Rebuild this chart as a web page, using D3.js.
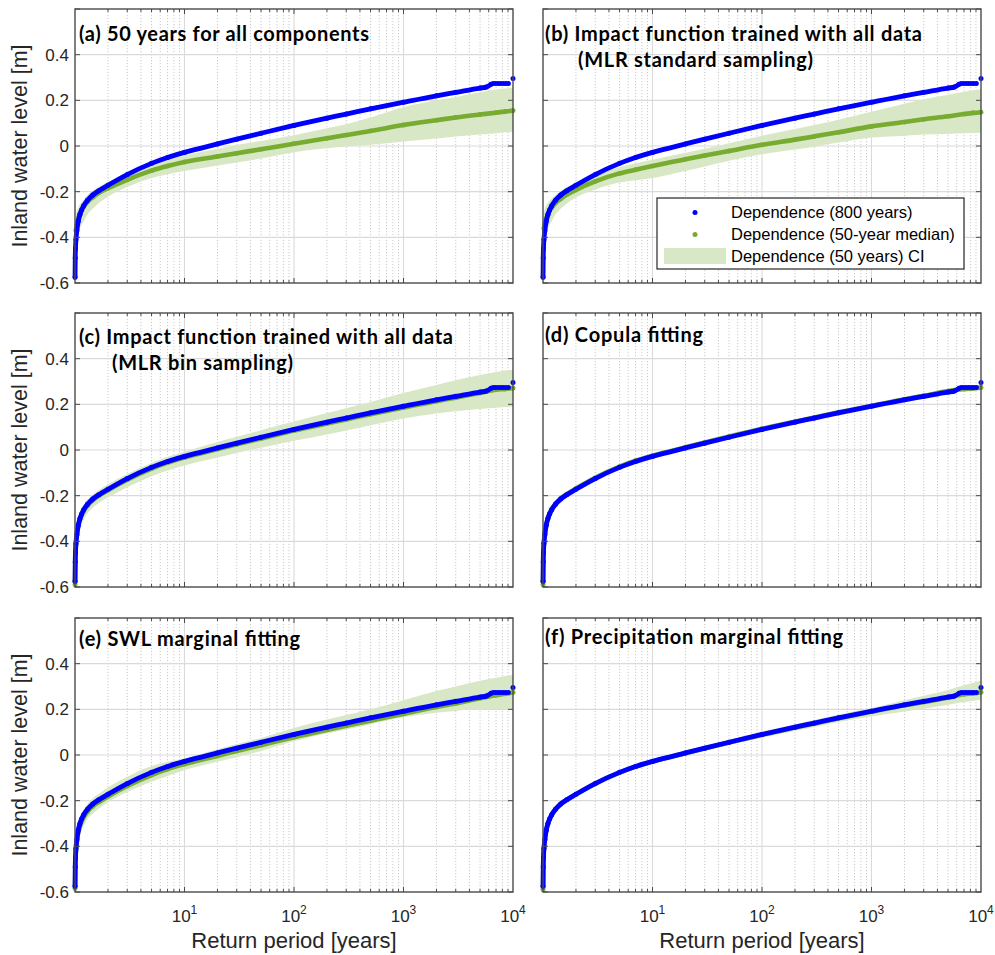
<!DOCTYPE html>
<html><head><meta charset="utf-8">
<script src="https://cdn.jsdelivr.net/npm/d3@7"></script>
<style>body{margin:0;background:#fff}</style>
</head><body>
<svg id="chart" width="995" height="955"></svg>
<script>
// ---------------- DATA ----------------
const PANEL_LABELS = ["a", "b", "c", "d", "e", "f"];
const PANEL_TITLES = [
  ["(a) 50 years for all components"],
  ["(b) Impact function trained with all data", "(MLR standard sampling)"],
  ["(c) Impact function trained with all data", "(MLR bin sampling)"],
  ["(d) Copula fitting"],
  ["(e) SWL marginal fitting"],
  ["(f) Precipitation marginal fitting"]
];
const LEGEND_LABELS = ["Dependence (800 years)", "Dependence (50-year median)", "Dependence (50 years) CI"];
const Y_TICKS = [-0.6, -0.4, -0.2, 0, 0.2, 0.4];
const X_MAJOR = [10, 100, 1000, 10000];
const X_MAJOR_EXP = ["1", "2", "3", "4"];
const X_LABEL = "Return period [years]";
const Y_LABEL = "Inland water level [m]";

// Reference curve: dependence, 800 years (same in every panel); the last points are isolated dots
const T_BLUE = [1.001, 1.005, 1.01, 1.02, 1.04, 1.07, 1.11, 1.15, 1.2, 1.3, 1.45, 1.65, 2, 3, 5, 7, 10, 20, 30, 50, 100, 200, 300, 500, 1000, 2000, 3000, 5000, 5700, 6300];
const BLUE   = [-0.575, -0.49, -0.45, -0.41, -0.37, -0.33, -0.30, -0.28, -0.262, -0.238, -0.215, -0.196, -0.172, -0.125, -0.076, -0.05, -0.028, 0.009, 0.03, 0.056, 0.09, 0.122, 0.14, 0.163, 0.192, 0.22, 0.235, 0.254, 0.258, 0.27];
const T_BLUE_TAIL = [6600, 6950, 7330, 7730, 8150, 8600, 9070, 10000];
const BLUE_TAIL   = [0.274, 0.274, 0.274, 0.274, 0.274, 0.274, 0.274, 0.296];

// Return periods for the 50-year median and its CI
const T_MED = [1.001, 1.01, 1.02, 1.04, 1.07, 1.11, 1.15, 1.2, 1.3, 1.45, 1.65, 2, 3, 5, 7, 10, 20, 30, 50, 100, 200, 300, 500, 1000, 2000, 3000, 5000, 7000, 8500, 10000];

const MED_A = [null, null, -0.37, -0.345, -0.32, -0.295, -0.28, -0.265, -0.245, -0.225, -0.205, -0.185, -0.148, -0.108, -0.088, -0.07, -0.046, -0.032, -0.014, 0.01, 0.034, 0.048, 0.066, 0.092, 0.113, 0.125, 0.138, 0.146, 0.151, 0.155];
const UP_A  = [null, null, -0.30, -0.285, -0.27, -0.255, -0.245, -0.235, -0.215, -0.195, -0.178, -0.158, -0.12, -0.08, -0.06, -0.042, -0.012, 0.004, 0.022, 0.047, 0.078, 0.095, 0.125, 0.17, 0.2, 0.215, 0.235, 0.247, 0.252, 0.256];
const LO_A  = [null, null, -0.40, -0.39, -0.375, -0.36, -0.345, -0.33, -0.30, -0.275, -0.25, -0.222, -0.18, -0.14, -0.124, -0.11, -0.085, -0.072, -0.055, -0.027, -0.01, -0.002, 0.005, 0.02, 0.033, 0.042, 0.05, 0.056, 0.06, 0.062];

const MED_B = [null, null, -0.36, -0.34, -0.318, -0.297, -0.283, -0.27, -0.25, -0.232, -0.213, -0.192, -0.155, -0.12, -0.104, -0.088, -0.058, -0.042, -0.022, 0.005, 0.028, 0.042, 0.06, 0.086, 0.105, 0.117, 0.13, 0.14, 0.145, 0.148];
const UP_B  = [null, null, -0.29, -0.275, -0.26, -0.248, -0.24, -0.23, -0.215, -0.197, -0.18, -0.16, -0.125, -0.092, -0.076, -0.06, -0.03, -0.012, 0.012, 0.045, 0.075, 0.092, 0.115, 0.15, 0.185, 0.205, 0.225, 0.238, 0.244, 0.248];
const LO_B  = [null, null, -0.40, -0.39, -0.375, -0.36, -0.345, -0.33, -0.30, -0.275, -0.252, -0.225, -0.19, -0.16, -0.15, -0.14, -0.11, -0.09, -0.065, -0.036, -0.015, -0.003, 0.015, 0.037, 0.045, 0.05, 0.053, 0.056, 0.057, 0.058];

const MED_C = [-0.59, -0.46, -0.415, -0.375, -0.335, -0.305, -0.285, -0.267, -0.243, -0.22, -0.2, -0.176, -0.13, -0.081, -0.055, -0.033, 0.004, 0.025, 0.05, 0.085, 0.116, 0.134, 0.157, 0.186, 0.214, 0.229, 0.25, 0.264, 0.267, 0.271];
const UP_C  = [null, null, -0.36, -0.33, -0.30, -0.27, -0.255, -0.24, -0.218, -0.195, -0.175, -0.15, -0.105, -0.057, -0.03, -0.008, 0.035, 0.058, 0.087, 0.125, 0.162, 0.183, 0.21, 0.25, 0.285, 0.305, 0.328, 0.342, 0.348, 0.352];
const LO_C  = [null, null, -0.46, -0.42, -0.38, -0.345, -0.325, -0.305, -0.278, -0.253, -0.232, -0.208, -0.163, -0.115, -0.09, -0.068, -0.033, -0.013, 0.01, 0.04, 0.068, 0.085, 0.108, 0.138, 0.16, 0.17, 0.18, 0.185, 0.188, 0.19];

const MED_D = [-0.59, -0.45, -0.405, -0.365, -0.326, -0.296, -0.277, -0.259, -0.235, -0.212, -0.193, -0.169, -0.122, -0.073, -0.047, -0.025, 0.012, 0.033, 0.059, 0.093, 0.124, 0.142, 0.165, 0.193, 0.222, 0.237, 0.258, 0.267, 0.27, 0.274];
const UP_D  = [null, null, -0.398, -0.358, -0.319, -0.289, -0.27, -0.252, -0.228, -0.205, -0.186, -0.162, -0.115, -0.066, -0.04, -0.018, 0.019, 0.04, 0.066, 0.1, 0.131, 0.15, 0.173, 0.201, 0.231, 0.247, 0.268, 0.278, 0.282, 0.286];
const LO_D  = [null, null, -0.412, -0.372, -0.333, -0.303, -0.284, -0.266, -0.242, -0.219, -0.2, -0.176, -0.129, -0.08, -0.054, -0.032, 0.005, 0.026, 0.052, 0.086, 0.117, 0.134, 0.157, 0.185, 0.213, 0.227, 0.248, 0.256, 0.258, 0.262];

const MED_E = [-0.585, -0.46, -0.42, -0.38, -0.34, -0.31, -0.29, -0.272, -0.248, -0.225, -0.206, -0.182, -0.136, -0.088, -0.062, -0.04, -0.004, 0.017, 0.043, 0.078, 0.11, 0.128, 0.15, 0.18, 0.21, 0.226, 0.248, 0.262, 0.268, 0.274];
const UP_E  = [null, null, -0.33, -0.31, -0.288, -0.268, -0.254, -0.24, -0.215, -0.19, -0.17, -0.142, -0.095, -0.048, -0.03, -0.015, 0.025, 0.048, 0.075, 0.118, 0.155, 0.175, 0.2, 0.24, 0.28, 0.3, 0.325, 0.338, 0.346, 0.352];
const LO_E  = [null, null, -0.45, -0.42, -0.38, -0.35, -0.33, -0.31, -0.28, -0.257, -0.235, -0.207, -0.162, -0.117, -0.092, -0.066, -0.03, -0.01, 0.018, 0.06, 0.095, 0.112, 0.135, 0.165, 0.185, 0.193, 0.2, 0.2, 0.2, 0.2];

const MED_F = [-0.59, -0.45, -0.41, -0.37, -0.33, -0.30, -0.28, -0.262, -0.238, -0.215, -0.196, -0.172, -0.125, -0.077, -0.051, -0.029, 0.008, 0.029, 0.055, 0.089, 0.12, 0.138, 0.161, 0.19, 0.218, 0.232, 0.252, 0.266, 0.27, 0.275];
const UP_F  = [null, null, -0.40, -0.36, -0.321, -0.291, -0.271, -0.253, -0.229, -0.206, -0.187, -0.163, -0.116, -0.068, -0.042, -0.02, 0.018, 0.04, 0.066, 0.102, 0.134, 0.153, 0.177, 0.206, 0.24, 0.26, 0.285, 0.305, 0.316, 0.326];
const LO_F  = [null, null, -0.42, -0.38, -0.339, -0.309, -0.289, -0.271, -0.247, -0.224, -0.205, -0.181, -0.134, -0.086, -0.06, -0.038, -0.002, 0.018, 0.044, 0.076, 0.106, 0.123, 0.145, 0.169, 0.19, 0.203, 0.22, 0.232, 0.238, 0.242];

const MEDIANS = [MED_A, MED_B, MED_C, MED_D, MED_E, MED_F];
const UPPERS  = [UP_A, UP_B, UP_C, UP_D, UP_E, UP_F];
const LOWERS  = [LO_A, LO_B, LO_C, LO_D, LO_E, LO_F];

// ---------------- LAYOUT / STYLE ----------------
const COL_X = [75, 543], ROW_Y = [9, 313, 618];
const PW = 438, PH = 274;
// [x, baseline y, second-line indent]
const TITLE_POS = [[79, 40.5, 0], [545, 40.5, 33], [79, 343.5, 33], [545, 342, 0], [79, 645.5, 0], [545, 644, 0]];
const TITLE_W = [[290], [377, 235], [374, 181], [158], [221], [298]];
const BLUE_C = "#0000ff", GREEN_C = "#77ac30";
const BAND_C = "#d8e7c6";
const AXIS_C = "#4a4a4a", TXT_C = "#262626";
const NUM_FONT = "'Liberation Sans', Arial, sans-serif";
const TITLE_FONT = "Lato, 'Open Sans', sans-serif";

const svg = d3.select("#chart");
svg.append("rect").attr("width", 995).attr("height", 955).attr("fill", "#fff");

PANEL_LABELS.forEach((lab, i) => {
  const col = i % 2, row = Math.floor(i / 2);
  const x0 = COL_X[col], y0 = ROW_Y[row];
  const x = d3.scaleLog().domain([1, 1e4]).range([x0, x0 + PW]);
  const y = d3.scaleLinear().domain([-0.6, 0.6]).range([y0 + PH, y0]);
  const g = svg.append("g");

  const clipId = "clip" + lab;
  g.append("clipPath").attr("id", clipId).append("rect")
    .attr("x", x0).attr("y", y0).attr("width", PW).attr("height", PH);

  // minor grid (dotted)
  const allTicks = x.ticks();
  const minor = allTicks.filter(t => !X_MAJOR.includes(t) && t > 1);
  g.selectAll(".mg").data(minor).join("line")
    .attr("x1", d => x(d)).attr("x2", d => x(d)).attr("y1", y0).attr("y2", y0 + PH)
    .attr("stroke", "#c4c4c4").attr("stroke-width", 0.9).attr("stroke-dasharray", "1.2,1.8");
  // major grid
  g.selectAll(".xg").data(X_MAJOR.slice(0, 3)).join("line")
    .attr("x1", d => x(d)).attr("x2", d => x(d)).attr("y1", y0).attr("y2", y0 + PH)
    .attr("stroke", "#dadada").attr("stroke-width", 1.1);
  g.selectAll(".yg").data(Y_TICKS.slice(1)).join("line")
    .attr("x1", x0).attr("x2", x0 + PW).attr("y1", d => y(d)).attr("y2", d => y(d))
    .attr("stroke", "#dadada").attr("stroke-width", 1.1);

  // CI band
  const bandData = T_MED.map((t, k) => ({t, lo: LOWERS[i][k], hi: UPPERS[i][k]}));
  const area = d3.area().defined(d => d.lo != null && d.hi != null)
    .x(d => x(d.t)).y0(d => y(d.lo)).y1(d => y(d.hi)).curve(d3.curveMonotoneX);
  g.append("path").datum(bandData).attr("d", area).attr("fill", BAND_C)
    .attr("clip-path", `url(#${clipId})`);

  // median (green)
  const medData = T_MED.map((t, k) => ({t, v: MEDIANS[i][k]}));
  const line = d3.line().defined(d => d.v != null).x(d => x(d.t)).y(d => y(d.v)).curve(d3.curveMonotoneX);
  g.append("path").datum(medData).attr("d", line).attr("fill", "none")
    .attr("stroke", GREEN_C).attr("stroke-width", 4.6).attr("stroke-linecap", "round");
  g.selectAll(".gd").data(medData.filter(d => d.v != null)).join("circle")
    .attr("cx", d => x(d.t)).attr("cy", d => y(d.v)).attr("r", 2.4).attr("fill", GREEN_C);

  // reference (blue)
  const blueData = T_BLUE.map((t, k) => ({t, v: BLUE[k]}));
  const blueTail = T_BLUE_TAIL.map((t, k) => ({t, v: BLUE_TAIL[k]}));
  g.append("path").datum(blueData).attr("d", line).attr("fill", "none")
    .attr("stroke", BLUE_C).attr("stroke-width", 4.8).attr("stroke-linecap", "round");
  g.selectAll(".bd").data(blueData.concat(blueTail)).join("circle")
    .attr("cx", d => x(d.t)).attr("cy", d => y(d.v)).attr("r", 2.5).attr("fill", BLUE_C);

  // ticks (inward, all four sides)
  const ticksG = g.append("g").attr("stroke", AXIS_C).attr("stroke-width", 1);
  allTicks.filter(t => t > 1 && t < 1e4).forEach(t => {
    const len = X_MAJOR.includes(t) ? 5 : 3;
    ticksG.append("line").attr("x1", x(t)).attr("x2", x(t)).attr("y1", y0 + PH).attr("y2", y0 + PH - len);
    ticksG.append("line").attr("x1", x(t)).attr("x2", x(t)).attr("y1", y0).attr("y2", y0 + len);
  });
  Y_TICKS.concat([0.6]).forEach(v => {
    ticksG.append("line").attr("x1", x0).attr("x2", x0 + 5).attr("y1", y(v)).attr("y2", y(v));
    ticksG.append("line").attr("x1", x0 + PW).attr("x2", x0 + PW - 5).attr("y1", y(v)).attr("y2", y(v));
  });

  // box
  g.append("rect").attr("x", x0).attr("y", y0).attr("width", PW).attr("height", PH)
    .attr("fill", "none").attr("stroke", AXIS_C).attr("stroke-width", 1.4);

  // y tick labels (left column)
  if (col === 0) {
    g.selectAll(".yl").data(Y_TICKS).join("text")
      .attr("x", x0 - 6).attr("y", d => y(d)).attr("dy", "0.36em")
      .attr("text-anchor", "end").attr("font-family", NUM_FONT).attr("font-size", 17)
      .attr("fill", TXT_C).text(d => d === 0 ? "0" : d3.format(".1f")(d).replace("−", "-"));
    svg.append("text")
      .attr("transform", `translate(${x0 - 48},${y0 + PH / 2}) rotate(-90)`)
      .attr("text-anchor", "middle").attr("font-family", NUM_FONT).attr("font-size", 21.5)
      .attr("fill", TXT_C).text(Y_LABEL);
  }
  // x tick labels (bottom row)
  if (row === 2) {
    X_MAJOR.forEach((t, k) => {
      const tx = g.append("text").attr("x", x(t)).attr("y", y0 + PH + 30)
        .attr("text-anchor", "middle").attr("font-family", NUM_FONT).attr("font-size", 17)
        .attr("fill", TXT_C);
      tx.append("tspan").text("10");
      tx.append("tspan").attr("font-size", 12).attr("dy", -8).text(X_MAJOR_EXP[k]);
    });
    svg.append("text").attr("x", x0 + PW / 2).attr("y", y0 + PH + 56)
      .attr("text-anchor", "middle").attr("font-family", NUM_FONT).attr("font-size", 22)
      .attr("fill", TXT_C).text(X_LABEL);
  }

  // title
  const tp = TITLE_POS[i];
  PANEL_TITLES[i].forEach((s, k) => {
    svg.append("text").attr("x", tp[0] + (k === 1 ? tp[2] : 0)).attr("y", tp[1] + k * 26.5)
      .attr("font-family", TITLE_FONT).attr("font-weight", "bold").attr("font-size", 20)
      .attr("textLength", TITLE_W[i][k]).attr("lengthAdjust", "spacing")
      .attr("fill", "#000").text(s);
  });

  // legend in panel (b)
  if (lab === "b") {
    const lx = 657, ly = 198, lw = 307, lh = 71;
    const lg = svg.append("g");
    lg.append("rect").attr("x", lx).attr("y", ly).attr("width", lw).attr("height", lh)
      .attr("fill", "#fff").attr("stroke", "#262626").attr("stroke-width", 1.2);
    const rowsY = [ly + 14.5, ly + 36.5, ly + 58];
    lg.append("circle").attr("cx", lx + 38).attr("cy", rowsY[0]).attr("r", 2.5).attr("fill", BLUE_C);
    lg.append("circle").attr("cx", lx + 38).attr("cy", rowsY[1]).attr("r", 2.5).attr("fill", GREEN_C);
    lg.append("rect").attr("x", lx + 7).attr("y", rowsY[2] - 8).attr("width", 62).attr("height", 16).attr("fill", BAND_C);
    LEGEND_LABELS.forEach((s, k) => {
      lg.append("text").attr("x", lx + 74).attr("y", rowsY[k]).attr("dy", "0.36em")
        .attr("font-family", NUM_FONT).attr("font-size", 16.5).attr("fill", "#000").text(s);
    });
  }
});
</script>
</body></html>
